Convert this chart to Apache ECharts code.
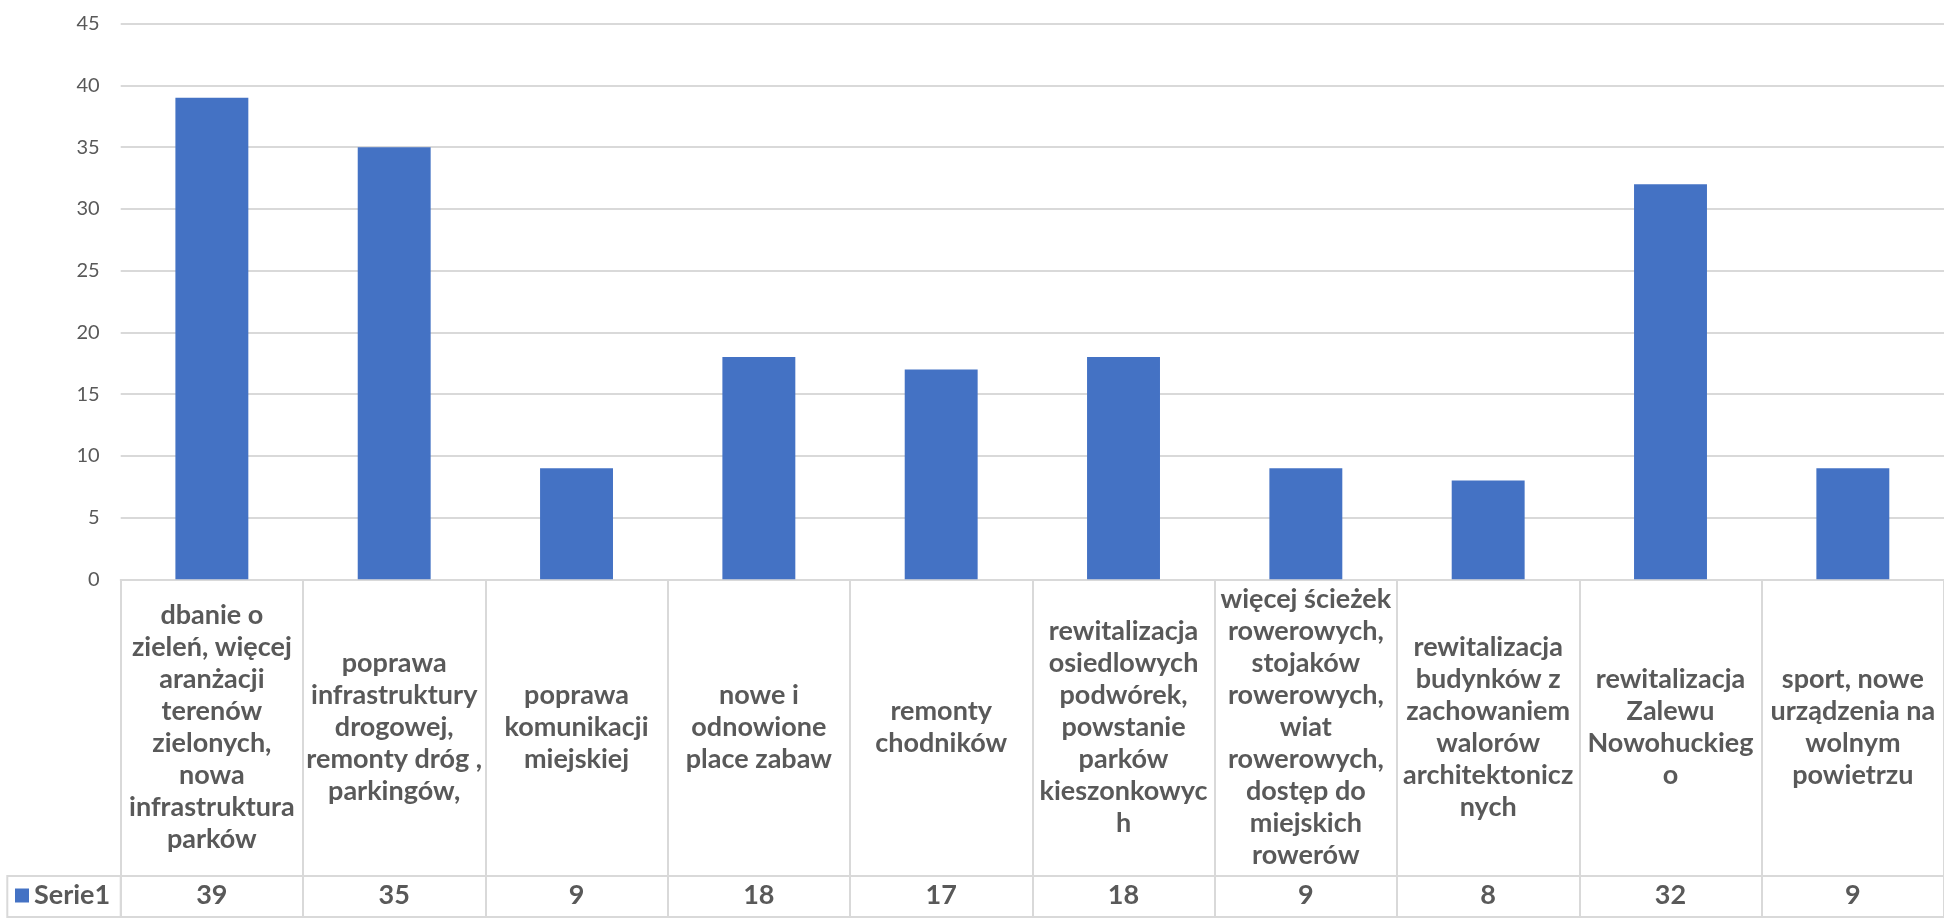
<!DOCTYPE html>
<html>
<head>
<meta charset="utf-8">
<script src="https://cdn.jsdelivr.net/npm/echarts@6/dist/echarts.min.js"></script>
<style>html,body{margin:0;padding:0;background:#fff;}#c{width:1944px;height:922px;}</style>
</head>
<body>
<div id="c"></div>
<script>
// Category labels (lines as wrapped in the reference)
const categories = [
  "dbanie o\nzieleń, więcej\naranżacji\nterenów\nzielonych,\nnowa\ninfrastruktura\nparków",
  "poprawa\ninfrastruktury\ndrogowej,\nremonty dróg ,\nparkingów,",
  "poprawa\nkomunikacji\nmiejskiej",
  "nowe i\nodnowione\nplace zabaw",
  "remonty\nchodników",
  "rewitalizacja\nosiedlowych\npodwórek,\npowstanie\nparków\nkieszonkowyc\nh",
  "więcej ścieżek\nrowerowych,\nstojaków\nrowerowych,\nwiat\nrowerowych,\ndostęp do\nmiejskich\nrowerów",
  "rewitalizacja\nbudynków z\nzachowaniem\nwalorów\narchitektonicz\nnych",
  "rewitalizacja\nZalewu\nNowohuckieg\no",
  "sport, nowe\nurządzenia na\nwolnym\npowietrzu"
];
const seriesName = "Serie1";
const values = [39, 35, 9, 18, 17, 18, 9, 8, 32, 9];
const yTicks = { min: 0, max: 45, interval: 5 };

const gray = '#595959';
const lineC = '#d9d9d9';
const FONT = 'Lato';

const chart = echarts.init(document.getElementById('c'));
chart.setOption({
  backgroundColor: '#ffffff',
  animation: false,
  textStyle: { fontFamily: FONT },
  legend: {
    data: [seriesName],
    left: 15, top: 882, padding: 0,
    icon: 'rect', itemWidth: 14, itemHeight: 14,
    textStyle: { fontFamily: FONT, fontSize: 27, fontWeight: 'bold', color: gray }
  },
  graphic: [{
    type: 'rect', silent: true,
    shape: { x: 7.3, y: 876, width: 113.4, height: 41 },
    style: { fill: 'none', stroke: lineC, lineWidth: 2 }
  }],
  grid: { left: 120.7, top: 23.7, width: 1826, height: 555.6 },
  xAxis: [{
    type: 'category', data: categories, position: 'bottom',
    axisLine: { show: true, lineStyle: { color: lineC, width: 2 } },
    axisTick: { show: true, length: 337, lineStyle: { color: lineC, width: 2 } },
    axisLabel: {
      interval: 0, margin: 148, verticalAlign: 'middle',
      fontFamily: FONT, fontSize: 27, fontWeight: 'bold', color: gray, lineHeight: 32
    },
    splitLine: { show: false }
  }, {
    type: 'category', data: categories, position: 'bottom', offset: 296,
    axisLine: { show: true, lineStyle: { color: lineC, width: 2 } },
    axisTick: { show: false },
    axisLabel: {
      interval: 0, margin: 20, verticalAlign: 'middle',
      formatter: (v, i) => String(values[i]),
      fontFamily: FONT, fontSize: 27, fontWeight: 'bold', color: gray
    }
  }, {
    type: 'category', data: categories, position: 'bottom', offset: 337,
    axisLine: { show: true, lineStyle: { color: lineC, width: 2 } },
    axisTick: { show: false }, axisLabel: { show: false }
  }],
  yAxis: {
    type: 'value', min: yTicks.min, max: yTicks.max, interval: yTicks.interval,
    axisLine: { show: false }, axisTick: { show: false },
    axisLabel: { margin: 21, fontFamily: FONT, fontSize: 20, color: gray },
    splitLine: { lineStyle: { color: lineC, width: 2 } }
  },
  series: [{
    name: seriesName, type: 'bar', data: values, barWidth: '40%',
    xAxisIndex: 0,
    itemStyle: { color: '#4472C4' }
  }]
});
</script>
</body>
</html>
